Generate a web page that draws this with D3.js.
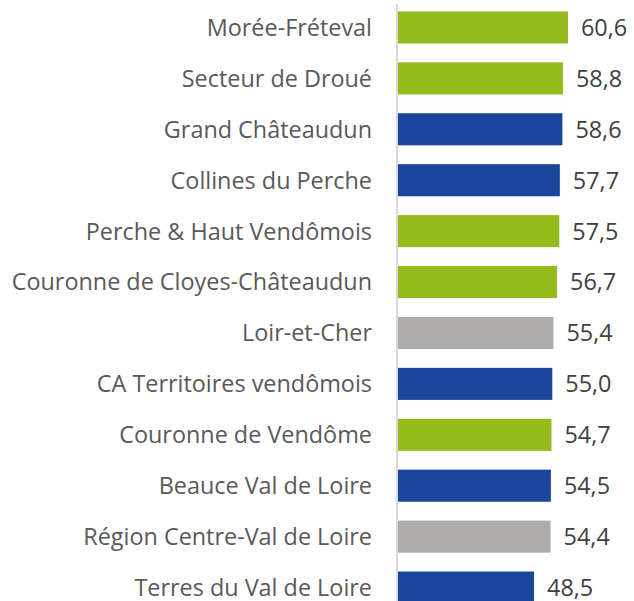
<!DOCTYPE html>
<html>
<head>
<meta charset="utf-8">
<script src="https://cdn.jsdelivr.net/npm/d3@7"></script>
<style>
  body { margin: 0; background: #fff; }
  svg { display: block; font-family: "Open Sans", sans-serif; }
</style>
</head>
<body>
<div id="container"></div>
<script>
const names = ['Morée-Fréteval', 'Secteur de Droué', 'Grand Châteaudun', 'Collines du Perche',
  'Perche & Haut Vendômois', 'Couronne de Cloyes-Châteaudun', 'Loir-et-Cher',
  'CA Territoires vendômois', 'Couronne de Vendôme', 'Beauce Val de Loire',
  'Région Centre-Val de Loire', 'Terres du Val de Loire'];
const values = [60.6, 58.8, 58.6, 57.7, 57.5, 56.7, 55.4, 55.0, 54.7, 54.5, 54.4, 48.5];
const kinds = ['cc', 'cc', 'ca', 'ca', 'cc', 'cc', 'ref', 'ca', 'cc', 'ca', 'ref', 'ca'];

const width = 634; const height = 601;
const colors = {cc: '#93bc1c', ca: '#19469b', ref: '#aeabab'};

const svg = d3.select('#container').append('svg')
    .attr('width', width)
    .attr('height', height);

const x0 = 398;
const x = d3.scaleLinear().domain([0, 60.6]).range([x0, 568]);
const y = d3.scaleBand().domain(names).range([2, 613]).paddingInner(0.37).paddingOuter(0.185);

const fmt = (v) => d3.format('.1f')(v).replace('.', ',');

svg.append('g').selectAll('rect')
    .data(names)
    .join('rect')
    .attr('x', x0)
    .attr('y', (d) => y(d))
    .attr('width', (d, i) => x(values[i]) - x0)
    .attr('height', y.bandwidth())
    .attr('fill', (d, i) => colors[kinds[i]]);

svg.append('line')
    .attr('x1', x0 - 1).attr('x2', x0 - 1)
    .attr('y1', 4).attr('y2', height)
    .attr('stroke', '#d9d9d9')
    .attr('stroke-width', 2);

svg.append('g').selectAll('text')
    .data(names)
    .join('text')
    .attr('x', 372)
    .attr('y', (d) => y(d) + y.bandwidth() / 2)
    .attr('dy', '0.36em')
    .attr('text-anchor', 'end')
    .attr('fill', '#595959')
    .style('font-size', '23.4px')
    .text((d) => d);

svg.append('g').selectAll('text')
    .data(names)
    .join('text')
    .attr('x', (d, i) => x(values[i]) + 13)
    .attr('y', (d) => y(d) + y.bandwidth() / 2)
    .attr('dy', '0.36em')
    .attr('fill', '#404040')
    .style('font-size', '23.4px')
    .text((d, i) => fmt(values[i]));
</script>
</body>
</html>
